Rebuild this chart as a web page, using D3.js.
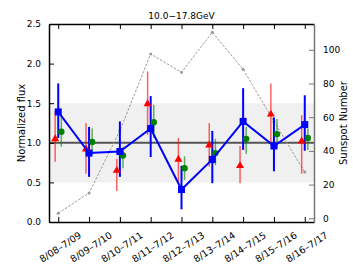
<!DOCTYPE html>
<html>
<head>
<meta charset="utf-8">
<script src="https://cdn.jsdelivr.net/npm/d3@7"></script>
<style>
  body { margin: 0; background: #fff; }
  text { font-family: "DejaVu Sans", sans-serif; fill: #000; }
</style>
</head>
<body>
<div id="chart"></div>
<script>
// periods on the x axis
const periods = ["8/08–7/09", "8/09–7/10", "8/10–7/11", "8/11–7/12", "8/12–7/13",
                 "8/13–7/14", "8/14–7/15", "8/15–7/16", "8/16–7/17"];

// blue squares (main series)
const blueVal = [1.39, 0.87, 0.89, 1.18, 0.41, 0.79, 1.27, 0.96, 1.23];
const blueLo  = [1.06, 0.57, 0.57, 0.82, 0.16, 0.49, 0.91, 0.64, 0.90];
const blueHi  = [1.75, 1.20, 1.27, 1.59, 0.71, 1.15, 1.69, 1.32, 1.60];

// red triangles
const redVal = [1.05, 0.92, 0.65, 1.49, 0.79, 0.97, 0.71, 1.36, 1.02];
const redLo  = [0.76, 0.61, 0.39, 1.10, 0.50, 0.70, 0.49, 0.98, 0.61];
const redHi  = [1.40, 1.25, 0.80, 1.90, 1.06, 1.25, 0.96, 1.75, 1.35];

// green circles
const greenVal = [1.14, 1.01, 0.84, 1.26, 0.68, 0.87, 1.05, 1.11, 1.06];
const greenLo  = [0.95, 0.87, 0.68, 1.06, 0.53, 0.72, 0.86, 0.94, 0.91];
const greenHi  = [1.33, 1.18, 0.95, 1.48, 0.83, 1.05, 1.20, 1.30, 1.18];

// sunspot number (right axis)
const sunspots = [3, 15, 52, 97.5, 86.6, 110.4, 88.4, 57.5, 27.5];

const fluxTicks = [0, 0.5, 1.0, 1.5, 2.0, 2.5];
const sunTicks = [0, 20, 40, 60, 80, 100];

const W = 353, H = 265;
const margin = {top: 24, right: 39, bottom: 43, left: 49};
const width = W - margin.left - margin.right;
const height = H - margin.top - margin.bottom;

const svg = d3.select("#chart").append("svg")
    .attr("width", W).attr("height", H);
const g = svg.append("g")
    .attr("transform", `translate(${margin.left},${margin.top})`);

const x = d3.scaleLinear().domain([-0.3, 8.3]).range([0, width]);
const y = d3.scaleLinear().domain([0, 2.5]).range([height, 0]);
const y2 = d3.scaleLinear().domain([-2.2, 115.3]).range([height, 0]);

// shaded band 0.5-1.5
g.append("rect")
    .attr("x", 0).attr("width", width)
    .attr("y", y(1.5)).attr("height", y(0.5) - y(1.5))
    .attr("fill", "#f0f0f0");

// reference line at 1
g.append("line")
    .attr("x1", 0).attr("x2", width)
    .attr("y1", y(1)).attr("y2", y(1))
    .attr("stroke", "#555").attr("stroke-width", 2);

// sunspot line
const idx = d3.range(periods.length);
g.append("path")
    .datum(idx)
    .attr("fill", "none")
    .attr("stroke", "#999")
    .attr("stroke-width", 1)
    .attr("stroke-dasharray", "2.5,1.5")
    .attr("d", d3.line().x(i => x(i)).y(i => y2(sunspots[i])));
g.selectAll(".sun").data(idx).enter().append("circle")
    .attr("cx", i => x(i)).attr("cy", i => y2(sunspots[i]))
    .attr("r", 1.5).attr("fill", "#999");

// error bars helper
function errBars(lo, hi, off, color, w, op) {
    g.selectAll(null).data(idx).enter().append("line")
        .attr("x1", i => x(i + off)).attr("x2", i => x(i + off))
        .attr("y1", i => y(lo[i])).attr("y2", i => y(hi[i]))
        .attr("stroke", color).attr("stroke-width", w)
        .attr("opacity", op);
}

errBars(redLo, redHi, -0.1, "red", 1.5, 0.6);
errBars(greenLo, greenHi, 0.1, "green", 1.5, 0.6);
errBars(blueLo, blueHi, 0, "blue", 2, 1);

// red triangles
g.selectAll(".tri").data(idx).enter().append("path")
    .attr("transform", i => `translate(${x(i - 0.1)},${y(redVal[i])})`)
    .attr("d", d3.symbol().type(d3.symbolTriangle).size(28))
    .attr("fill", "red");

// green circles
g.selectAll(".dot").data(idx).enter().append("circle")
    .attr("cx", i => x(i + 0.1)).attr("cy", i => y(greenVal[i]))
    .attr("r", 3.2).attr("fill", "green");

// blue line + squares
g.append("path")
    .datum(idx)
    .attr("fill", "none")
    .attr("stroke", "blue")
    .attr("stroke-width", 2)
    .attr("d", d3.line().x(i => x(i)).y(i => y(blueVal[i])));
g.selectAll(".sq").data(idx).enter().append("rect")
    .attr("x", i => x(i) - 3.5).attr("y", i => y(blueVal[i]) - 3.5)
    .attr("width", 7).attr("height", 7)
    .attr("fill", "blue");

// axes (ticks pointing inward)
const axLeft = g.append("g")
    .call(d3.axisLeft(y).tickValues(fluxTicks).tickFormat(d3.format(".1f"))
        .tickSizeInner(-5).tickSizeOuter(0).tickPadding(8));
const axBottom = g.append("g")
    .attr("transform", `translate(0,${height})`)
    .call(d3.axisBottom(x).tickValues(idx).tickFormat(i => periods[i])
        .tickSizeInner(-5).tickSizeOuter(0));
const axTop = g.append("g")
    .call(d3.axisTop(x).tickValues(idx).tickFormat("")
        .tickSizeInner(-5).tickSizeOuter(0));
const axRight = g.append("g")
    .attr("transform", `translate(${width},0)`)
    .call(d3.axisRight(y2).tickValues(sunTicks)
        .tickSizeInner(-5).tickSizeOuter(0).tickPadding(9));

[axLeft, axBottom, axTop, axRight].forEach(a => {
    a.selectAll("text").style("font-size", "9px").attr("fill", "#000");
    a.select(".domain").attr("stroke-width", 1.5);
});
axRight.select(".domain").attr("stroke", "#777");
axRight.selectAll(".tick line").attr("stroke", "#777");

axBottom.selectAll("text")
    .attr("text-anchor", "middle")
    .attr("dy", null)
    .attr("y", 0)
    .attr("dominant-baseline", "central")
    .style("font-size", "9.5px")
    .attr("transform", "translate(1.5,25) rotate(-33)");

// title
svg.append("text")
    .attr("x", margin.left + width / 2).attr("y", 19)
    .attr("text-anchor", "middle")
    .style("font-size", "9px")
    .text("10.0−17.8GeV");

// axis labels
svg.append("text")
    .attr("transform", `translate(25,${margin.top + height / 2}) rotate(-90)`)
    .attr("text-anchor", "middle")
    .style("font-size", "10px")
    .text("Normalized flux");
svg.append("text")
    .attr("transform", `translate(347,${margin.top + height / 2}) rotate(-90)`)
    .attr("text-anchor", "middle")
    .style("font-size", "10px")
    .text("Sunspot Number");
</script>
</body>
</html>
